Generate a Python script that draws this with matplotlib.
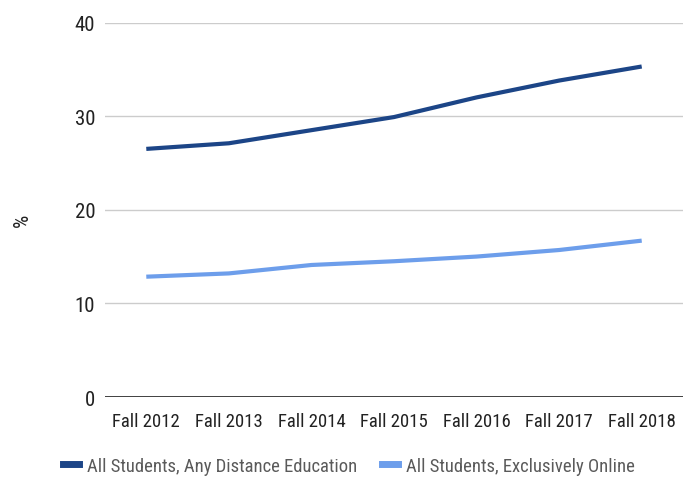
import matplotlib
matplotlib.use("Agg")
import matplotlib.pyplot as plt
from matplotlib.lines import Line2D
from matplotlib import font_manager

categories = ["Fall 2012", "Fall 2013", "Fall 2014", "Fall 2015", "Fall 2016", "Fall 2017", "Fall 2018"]
any_distance = [26.5, 27.1, 28.5, 29.9, 32.0, 33.8, 35.3]
exclusively_online = [12.85, 13.2, 14.1, 14.5, 15.0, 15.7, 16.7]
series_names = ["All Students, Any Distance Education", "All Students, Exclusively Online"]
yticks = [0, 10, 20, 30, 40]

installed = {f.name for f in font_manager.fontManager.ttflist}
condensed = None
for cand in ["Roboto Condensed", "Liberation Sans Narrow", "DejaVu Sans Condensed"]:
    if cand in installed:
        condensed = cand
        break
if condensed:
    plt.rcParams['font.family'] = [condensed, 'DejaVu Sans']
    ytick_size, xtick_size, leg_size = 15, 13.5, 13.4
else:
    plt.rcParams['font.family'] = ['Roboto', 'DejaVu Sans']
    ytick_size, xtick_size, leg_size = 12.5, 12, 12

dark = "#1c4587"
light = "#6d9eeb"

fig = plt.figure(figsize=(6.84, 4.81), dpi=100)
ax = fig.add_axes([105/684, 1-398/481, (683-105)/684, (398-23.5)/481])

x = list(range(len(categories)))
ax.plot(x, any_distance, color=dark, lw=3, solid_capstyle='butt', zorder=3)
ax.plot(x, exclusively_online, color=light, lw=3, solid_capstyle='butt', zorder=3)

ax.set_xlim(-0.5, 6.5)
ax.set_ylim(0, 40)
ax.set_yticks(yticks)
ax.set_xticks(x)
ax.set_xticklabels(categories)
for s in ax.spines.values():
    s.set_visible(False)
ax.grid(axis='y', color='#cccccc', lw=1)
ax.axhline(0, color='#333333', lw=1.3, zorder=2)
ax.set_axisbelow(True)
ax.tick_params(axis='both', length=0, colors='#222222')
ax.tick_params(axis='y', pad=7, labelsize=ytick_size)
ax.tick_params(axis='x', pad=11, labelsize=xtick_size)

fig.text(22/684, 1-220/481, "%", rotation=90, ha='center', va='center', fontsize=ytick_size, color='#222222')

handles = [Line2D([0], [0], color=dark, lw=5), Line2D([0], [0], color=light, lw=5)]
fig.legend(handles, series_names, loc='center', bbox_to_anchor=(349/684, 1-467/481),
           ncol=2, frameon=False, fontsize=leg_size, labelcolor='#5a5a5a',
           handlelength=0.85, handletextpad=0.45, columnspacing=1.3)

fig.savefig("out.png", dpi=100)
